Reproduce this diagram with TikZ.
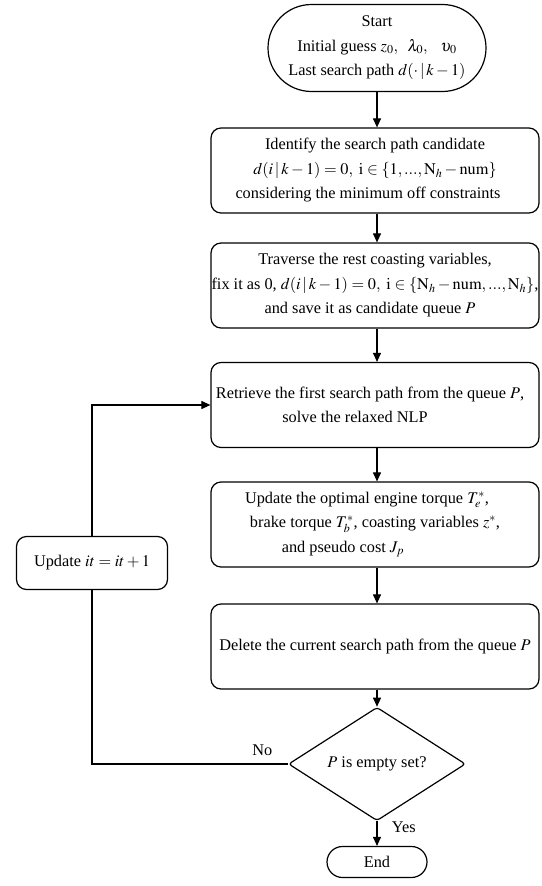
\documentclass[tikz,border=0pt]{standalone}
\usepackage{mathptmx}
\usepackage{fontspec}
\setmainfont{Liberation Serif}
\usetikzlibrary{shapes.geometric,shapes.misc,arrows.meta}
\begin{document}
\begin{tikzpicture}[x=1pt,y=-1pt,
  every node/.style={font=\fontsize{16.3}{24.5}\selectfont},
  procbox/.style={draw, line width=1.2pt, rounded corners=10pt, minimum width=328pt, minimum height=85pt, align=center, inner sep=0pt},
  termbox/.style={draw, line width=1.2pt, rounded rectangle, align=center, inner sep=0pt},
  decbox/.style={draw, line width=1.2pt, diamond, rounded corners=3pt, minimum width=177pt, minimum height=85pt, inner sep=0pt},
  arr/.style={-{Triangle[length=9pt,width=8pt]}, line width=1.1pt},
  ln/.style={line width=1.1pt}
]
\useasboundingbox (0,0) rectangle (541,886);
\node[termbox, minimum width=218pt, minimum height=87pt] (start) at (377,48)
  {Start\\ Initial guess $z_0,\;\ \lambda_0,\;\;\ \upsilon_0$\\ Last search path $d(\cdot\,|\,k-1)$};
\node[procbox] (b1) at (375,170.5)
  {Identify the search path candidate\\ $d(i\,|\,k-1)=0,\ \mathrm{i}\in\{1,\mathrm{...},\mathrm{N}_h-\mathrm{num}\}$\\ considering the minimum off constraints\hspace*{14pt}};
\node[procbox] (b2) at (375,285.5)
  {Traverse the rest coasting variables,\\ fix it as 0, $d(i\,|\,k-1)=0,\ \mathrm{i}\in\{\mathrm{N}_h-\mathrm{num},\mathrm{...},\mathrm{N}_h\}$,\\ and save it as candidate queue $P$\hspace*{10pt}};
\node[procbox] (b3) at (375,405)
  {Retrieve the first search path from the queue $P$,\hspace*{10pt}\\ solve the relaxed NLP\hspace*{40pt}};
\node[procbox] (b4) at (375,524.5)
  {Update the optimal engine torque $T_e^*$,\hspace*{16pt}\\ brake torque $T_b^*$, coasting variables $z^*$,\hspace*{36pt}\\ and pseudo cost $J_p$\hspace*{64pt}};
\node[procbox] (b5) at (375,646.5)
  {Delete the current search path from the queue $P$};
\node[decbox] (dec) at (377,764) {$P$ is empty set?};
\node[termbox, minimum width=100pt, minimum height=31pt] (end) at (377,862) {End};
\node[draw, line width=1.2pt, rounded corners=10pt, minimum width=151pt, minimum height=53pt] (upd) at (92,563) {Update $it=it+1$};
\coordinate (c1) at (92,764);
\coordinate (c2) at (92,405);
\draw[arr] (start.south) -- (b1.north -| start.south);
\draw[arr] (b1.south -| start.south) -- (b2.north -| start.south);
\draw[arr] (b2.south -| start.south) -- (b3.north -| start.south);
\draw[arr] (b3.south -| start.south) -- (b4.north -| start.south);
\draw[arr] (b4.south -| start.south) -- (b5.north -| start.south);
\draw[arr] (b5.south -| start.south) -- (dec.north);
\draw[arr] (dec.south) -- (end.north) node[pos=0.25, right=11pt] {Yes};
\draw[ln] (dec.west) -- node[pos=0.13, above=4pt] {No} (c1) -- (upd.south);
\draw[arr] (upd.north) -- (c2) -- (b3.west);
\end{tikzpicture}
\end{document}
